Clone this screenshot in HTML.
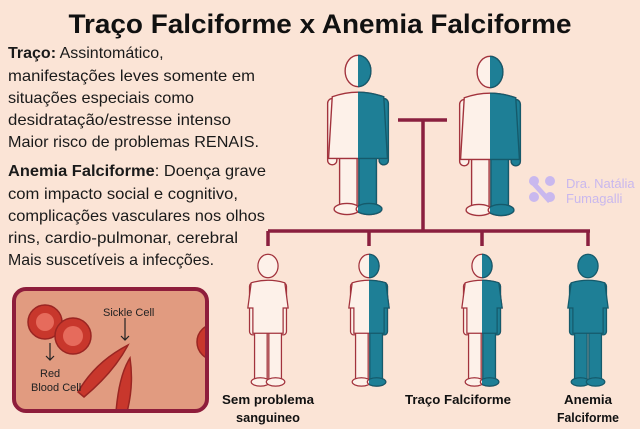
<!DOCTYPE html>
<html><head><meta charset="utf-8"><style>
html,body{margin:0;padding:0;background:#fbe4d6;}
svg{display:block}
text{font-family:"Liberation Sans",sans-serif}
</style></head><body>
<svg width="640" height="429" viewBox="0 0 640 429" xmlns="http://www.w3.org/2000/svg">
<defs>
<symbol id="kid" overflow="visible">
  <ellipse cx="0" cy="0" rx="12" ry="14"/>
  <rect x="-22" y="20" width="8" height="62" rx="4"/>
  <rect x="14" y="20" width="8" height="62" rx="4"/>
  <rect x="-16" y="78" width="15" height="58"/>
  <rect x="1" y="78" width="15" height="58"/>
  <ellipse cx="-9" cy="138" rx="11" ry="5"/>
  <ellipse cx="9" cy="138" rx="11" ry="5"/>
  <path d="M-20,20 Q0,14 20,20 L24,50 L18,50 L18,80 L-18,80 L-18,50 L-24,50 Z"/>
</symbol>
<symbol id="adult" overflow="visible">
  <ellipse cx="0" cy="0" rx="14" ry="17"/>
  <rect x="-33" y="30" width="10" height="72" rx="5"/>
  <rect x="23" y="30" width="10" height="72" rx="5"/>
  <rect x="-20" y="95" width="19" height="55"/>
  <rect x="1" y="95" width="19" height="55"/>
  <ellipse cx="-12" cy="150" rx="14" ry="6"/>
  <ellipse cx="12" cy="150" rx="14" ry="6"/>
  <path d="M-28,28 Q0,18 28,28 L32,95 L-32,95 Z"/>
</symbol>
<clipPath id="c1"><rect x="358" y="0" width="60" height="429"/></clipPath>
<clipPath id="c2"><rect x="490" y="0" width="60" height="429"/></clipPath>
<clipPath id="c3"><rect x="369" y="0" width="60" height="429"/></clipPath>
<clipPath id="c4"><rect x="482" y="0" width="60" height="429"/></clipPath>
<clipPath id="box"><rect x="16" y="291" width="189" height="118" rx="10"/></clipPath>
</defs>

<text x="320" y="33" text-anchor="middle" font-size="27" font-weight="bold" fill="#111" textLength="503" lengthAdjust="spacingAndGlyphs">Traço Falciforme x Anemia Falciforme</text>

<g font-size="16" fill="#1a1a1a">
<text x="8" y="58"><tspan font-weight="bold">Traço:</tspan> Assintomático,</text>
<text x="8" y="81" textLength="247" lengthAdjust="spacingAndGlyphs">manifestações leves somente em</text>
<text x="8" y="103" textLength="186" lengthAdjust="spacingAndGlyphs">situações especiais como</text>
<text x="8" y="125" textLength="223" lengthAdjust="spacingAndGlyphs">desidratação/estresse intenso</text>
<text x="8" y="147" textLength="251" lengthAdjust="spacingAndGlyphs">Maior risco de problemas RENAIS.</text>
<text x="8" y="176" textLength="258" lengthAdjust="spacingAndGlyphs"><tspan font-weight="bold">Anemia Falciforme</tspan>: Doença grave</text>
<text x="8" y="199" textLength="230" lengthAdjust="spacingAndGlyphs">com impacto social e cognitivo,</text>
<text x="8" y="221" textLength="257" lengthAdjust="spacingAndGlyphs">complicações vasculares nos olhos</text>
<text x="8" y="243" textLength="230" lengthAdjust="spacingAndGlyphs">rins, cardio-pulmonar, cerebral</text>
<text x="8" y="265" textLength="206" lengthAdjust="spacingAndGlyphs">Mais suscetíveis a infecções.</text>
</g>

<!-- tree -->
<g stroke="#8a1f3f" stroke-width="3.5" fill="none">
<path d="M398,120 H447 M423,120 V231 M268,231 H590 M268,231 V246 M369,231 V246 M482,231 V246 M588,231 V246"/>
</g>

<!-- parents -->
<g stroke-width="1.5">
<use href="#adult" transform="translate(358,71) scale(0.92)" fill="#fdf1e9" stroke="#a2333d"/>
<g clip-path="url(#c1)"><use href="#adult" transform="translate(358,71) scale(0.92)" fill="#1e7f96" stroke="#155a6b"/></g>
<use href="#adult" transform="translate(490,72) scale(0.92)" fill="#fdf1e9" stroke="#a2333d"/>
<g clip-path="url(#c2)"><use href="#adult" transform="translate(490,72) scale(0.92)" fill="#1e7f96" stroke="#155a6b"/></g>
<!-- children -->
<use href="#kid" transform="translate(268,266) scale(0.84)" fill="#fdf1e9" stroke="#a2333d"/>
<use href="#kid" transform="translate(369,266) scale(0.84)" fill="#fdf1e9" stroke="#a2333d"/>
<g clip-path="url(#c3)"><use href="#kid" transform="translate(369,266) scale(0.84)" fill="#1e7f96" stroke="#155a6b"/></g>
<use href="#kid" transform="translate(482,266) scale(0.84)" fill="#fdf1e9" stroke="#a2333d"/>
<g clip-path="url(#c4)"><use href="#kid" transform="translate(482,266) scale(0.84)" fill="#1e7f96" stroke="#155a6b"/></g>
<use href="#kid" transform="translate(588,266) scale(0.84)" fill="#1e7f96" stroke="#155a6b"/>
</g>

<!-- watermark -->
<g fill="#c9b8ee">
<circle cx="534" cy="181" r="5"/><circle cx="550" cy="181" r="5"/>
<circle cx="534" cy="197" r="5"/><circle cx="550" cy="197" r="5"/>
<path d="M532,178 L552,200 L548,203 L529,182 Z"/>
<text x="566" y="188" font-size="13">Dra. Natália</text>
<text x="566" y="203" font-size="13">Fumagalli</text>
</g>

<!-- blood box -->
<rect x="14" y="289" width="193" height="122" rx="12" fill="#e19b80" stroke="#8e1d3b" stroke-width="4"/>
<g clip-path="url(#box)">
<g fill="#c8372c" stroke="#9a2522" stroke-width="1.5">
<circle cx="45" cy="322" r="17"/><circle cx="73" cy="336" r="18"/>
<circle cx="215" cy="342" r="18"/>
<path d="M78,392 Q95,362 128,345 Q114,372 84,397 Z"/>
<path d="M116,412 Q119,375 130,358 Q134,385 127,412 Z"/>
</g>
<g fill="#e66b5c"><circle cx="45" cy="322" r="9"/><circle cx="73" cy="336" r="10"/></g>
</g>
<g stroke="#222" stroke-width="1.2" fill="none">
<path d="M50,343 V360 M46,356 L50,360 L54,356"/>
<path d="M125,318 V340 M121,336 L125,340 L129,336"/>
</g>
<g font-size="11" fill="#222">
<text x="103" y="316">Sickle Cell</text>
<text x="40" y="377">Red</text>
<text x="31" y="391">Blood Cell</text>
</g>

<!-- labels -->
<g font-size="13" font-weight="bold" fill="#111" text-anchor="middle">
<text x="268" y="404" textLength="92" lengthAdjust="spacingAndGlyphs">Sem problema</text>
<text x="268" y="422" textLength="64" lengthAdjust="spacingAndGlyphs">sanguineo</text>
<text x="458" y="404" textLength="106" lengthAdjust="spacingAndGlyphs">Traço Falciforme</text>
<text x="588" y="404" textLength="48" lengthAdjust="spacingAndGlyphs">Anemia</text>
<text x="588" y="422" textLength="62" lengthAdjust="spacingAndGlyphs">Falciforme</text>
</g>
</svg>
</body></html>
